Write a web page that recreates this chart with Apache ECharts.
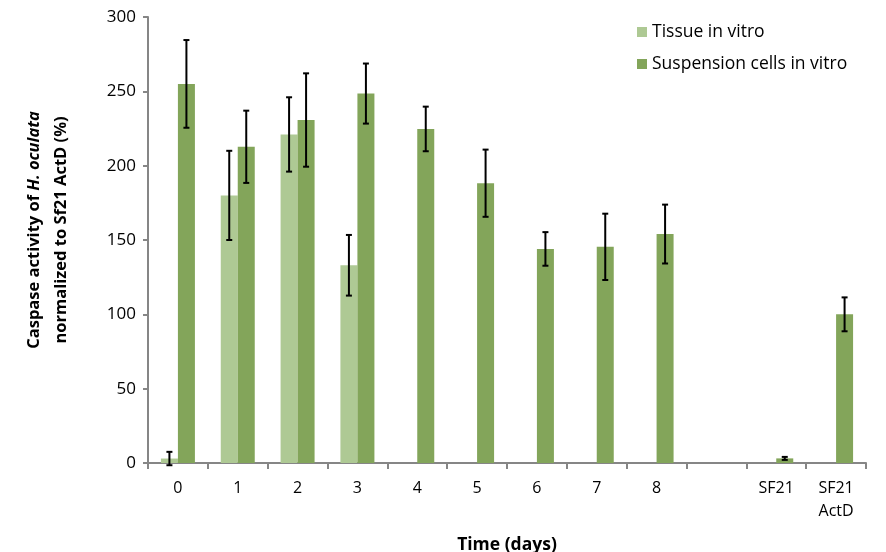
<!DOCTYPE html>
<html><head><meta charset="utf-8">
<script src="https://cdn.jsdelivr.net/npm/echarts@6/dist/echarts.min.js"></script>
<style>html,body{margin:0;padding:0;background:#fff}#c{width:886px;height:552px}</style>
</head><body><div id="c"></div>
<script>
const categories = ['0','1','2','3','4','5','6','7','8','','SF21','SF21\nActD'];
const tissue = [3, 180, 221, 133, null, null, null, null, null, null, null, null];
const tissueErr = [4.5, 30, 25, 20.4, null, null, null, null, null, null, null, null];
const suspension = [255, 212.7, 230.7, 248.5, 224.7, 188.2, 144, 145.4, 154, null, 3.1, 100];
const suspensionErr = [29.5, 24.3, 31.4, 20.2, 15, 22.6, 11.3, 22.3, 19.8, null, 1, 11.4];
const yTicks = {min: 0, max: 300, interval: 50};

const FONT = 'Open Sans';
const BAR_W = 17;

function errSeries(vals, errs, offset) {
  const data = [];
  vals.forEach((v, i) => { if (v != null && errs[i] != null) data.push([i, v - errs[i], v + errs[i]]); });
  return {
    type: 'custom', z: 10, silent: true,
    data: data,
    renderItem: function (params, api) {
      const lo = api.coord([api.value(0), api.value(1)]);
      const hi = api.coord([api.value(0), api.value(2)]);
      const x = lo[0] + offset;
      const hw = 3;
      const st = {stroke: '#000', lineWidth: 2};
      return {type: 'group', children: [
        {type: 'line', shape: {x1: x, y1: lo[1], x2: x, y2: hi[1]}, style: st},
        {type: 'line', shape: {x1: x - hw, y1: lo[1], x2: x + hw, y2: lo[1]}, style: st},
        {type: 'line', shape: {x1: x - hw, y1: hi[1], x2: x + hw, y2: hi[1]}, style: st}
      ]};
    }
  };
}

const chart = echarts.init(document.getElementById('c'));
chart.setOption({
  animation: false,
  backgroundColor: '#fff',
  textStyle: {fontFamily: FONT},
  grid: {left: 148, right: 20, top: 17, bottom: 89, containLabel: false, outerBoundsMode: 'none'},
  legend: {
    orient: 'vertical', left: 632, top: 17,
    itemWidth: 10, itemHeight: 10, itemGap: 12,
    icon: 'rect',
    textStyle: {fontFamily: FONT, fontSize: 17.5, color: '#000', lineHeight: 20},
    data: ['Tissue in vitro', 'Suspension cells in vitro']
  },
  xAxis: {
    type: 'category', data: categories,
    axisLine: {lineStyle: {color: '#868686', width: 2}},
    axisTick: {show: true, interval: 0, length: 6, lineStyle: {color: '#868686', width: 2}},
    axisLabel: {interval: 0, color: '#000', fontSize: 16, fontFamily: FONT, lineHeight: 23, margin: 14},
    name: 'Time (days)', nameLocation: 'middle', nameGap: 73,
    nameTextStyle: {fontWeight: 'bold', fontSize: 17.5, color: '#000', fontFamily: FONT}
  },
  yAxis: {
    type: 'value', min: yTicks.min, max: yTicks.max, interval: yTicks.interval,
    axisLine: {show: true, lineStyle: {color: '#868686', width: 2}},
    axisTick: {show: true, length: 5, lineStyle: {color: '#868686', width: 2}},
    splitLine: {show: false},
    axisLabel: {color: '#000', fontSize: 17, fontFamily: FONT, margin: 12},
    name: '{b|Caspase activity of }{i|H. oculata}\n{b|normalized to Sf21 ActD (%)}',
    nameLocation: 'middle', nameGap: 73, nameRotate: 90,
    nameTextStyle: {
      align: 'center', color: '#000', padding: [0, 0, 0, 20],
      rich: {
        b: {fontWeight: 'bold', fontSize: 16.5, fontFamily: FONT, color: '#000', lineHeight: 27},
        i: {fontWeight: 'bold', fontStyle: 'italic', fontSize: 16.5, fontFamily: FONT, color: '#000', lineHeight: 27}
      }
    }
  },
  series: [
    {name: 'Tissue in vitro', type: 'bar', data: tissue, barWidth: BAR_W, barGap: '0%',
     itemStyle: {color: '#AEC994'}},
    {name: 'Suspension cells in vitro', type: 'bar', data: suspension, barWidth: BAR_W, barGap: '0%',
     itemStyle: {color: '#83A55A'}},
    errSeries(tissue, tissueErr, -BAR_W / 2),
    errSeries(suspension, suspensionErr, BAR_W / 2)
  ]
});
</script></body></html>
